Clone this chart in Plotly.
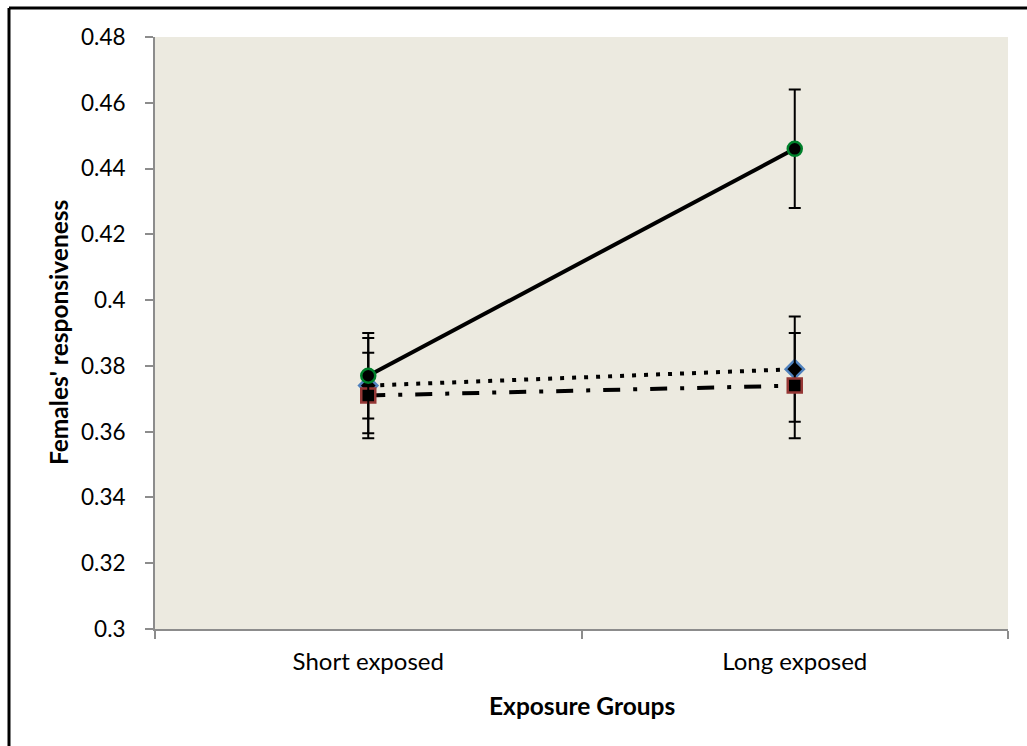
import plotly.graph_objects as go

# Exposure groups on the x axis
groups = ["Short exposed", "Long exposed"]

# Mean female responsiveness per group, one list per series
solid_means = [0.377, 0.446]
dotted_means = [0.374, 0.379]
dashdot_means = [0.371, 0.374]

# Error half-widths (upper / lower)
solid_err_up = [0.013, 0.018]
solid_err_down = [0.013, 0.018]
dotted_err_up = [0.0145, 0.016]
dotted_err_down = [0.0145, 0.016]
dashdot_err_up = [0.013, 0.016]
dashdot_err_down = [0.013, 0.016]

y_ticks = [0.3, 0.32, 0.34, 0.36, 0.38, 0.4, 0.42, 0.44, 0.46, 0.48]
y_tick_labels = ["0.3", "0.32", "0.34", "0.36", "0.38", "0.4", "0.42", "0.44", "0.46", "0.48"]

FONT = "Lato"
AXIS_GREY = "#8c8c8c"
x_pos = list(range(len(groups)))

fig = go.Figure()


def add_series(means, up, down, dash, symbol, edge):
    fig.add_trace(go.Scatter(
        x=x_pos, y=means, mode="lines+markers",
        line=dict(color="black", width=4, dash=dash),
        marker=dict(symbol=symbol, size=14, color="black",
                    line=dict(color=edge, width=2.5)),
        error_y=dict(type="data", array=up, arrayminus=down, symmetric=False,
                     color="black", thickness=2, width=6),
        showlegend=False, hoverinfo="skip",
    ))


add_series(dotted_means, dotted_err_up, dotted_err_down, "4px,8px", "diamond", "#4f81bd")
add_series(dashdot_means, dashdot_err_up, dashdot_err_down, "17px,13px,4px,13px", "square", "#953735")
add_series(solid_means, solid_err_up, solid_err_down, "solid", "circle", "#00802b")

fig.update_layout(
    width=1027, height=746,
    margin=dict(l=155, r=19, t=37, b=117),
    paper_bgcolor="white",
    plot_bgcolor="#eceae0",
    font=dict(family=FONT, size=22, color="black"),
)

fig.update_xaxes(
    range=[-0.5, 1.5],
    tickmode="array", tickvals=x_pos, ticktext=groups,
    ticks="", showgrid=False, zeroline=False,
    showline=True, linecolor=AXIS_GREY, linewidth=2,
    minor=dict(tickmode="array", tickvals=[-0.5, 0.5, 1.5], ticks="outside",
               ticklen=8, tickwidth=2, tickcolor=AXIS_GREY, showgrid=False),
    tickfont=dict(size=24), ticklabelstandoff=10,
)

fig.update_yaxes(
    range=[0.3, 0.48],
    tickmode="array", tickvals=y_ticks, ticktext=y_tick_labels,
    ticks="outside", ticklen=8, tickwidth=2, tickcolor=AXIS_GREY,
    showgrid=False, zeroline=False,
    showline=True, linecolor=AXIS_GREY, linewidth=2,
    tickfont=dict(size=22.5), ticklabelstandoff=15,
)

# Axis titles
fig.add_annotation(text="<b>Exposure Groups</b>", xref="paper", yref="paper",
                   x=0.5, y=0, yshift=-76, showarrow=False,
                   font=dict(family=FONT, size=24.5), yanchor="middle")
fig.add_annotation(text="<b>Females' responsiveness</b>", xref="paper", yref="paper",
                   x=0, xshift=-97, y=0.5, showarrow=False, textangle=-90,
                   font=dict(family=FONT, size=24.5), xanchor="center")

# Outer black frame (left and top edges)
px_w, px_h = 1027 - 155 - 19, 746 - 37 - 117
left = (9 - 155) / px_w
top = (629 - 8) / px_h
fig.add_shape(type="line", xref="paper", yref="paper", x0=left, x1=left,
              y0=top, y1=-1, line=dict(color="black", width=3))
fig.add_shape(type="line", xref="paper", yref="paper", x0=left, x1=2,
              y0=top, y1=top, line=dict(color="black", width=3))

fig.write_html("out.html")
